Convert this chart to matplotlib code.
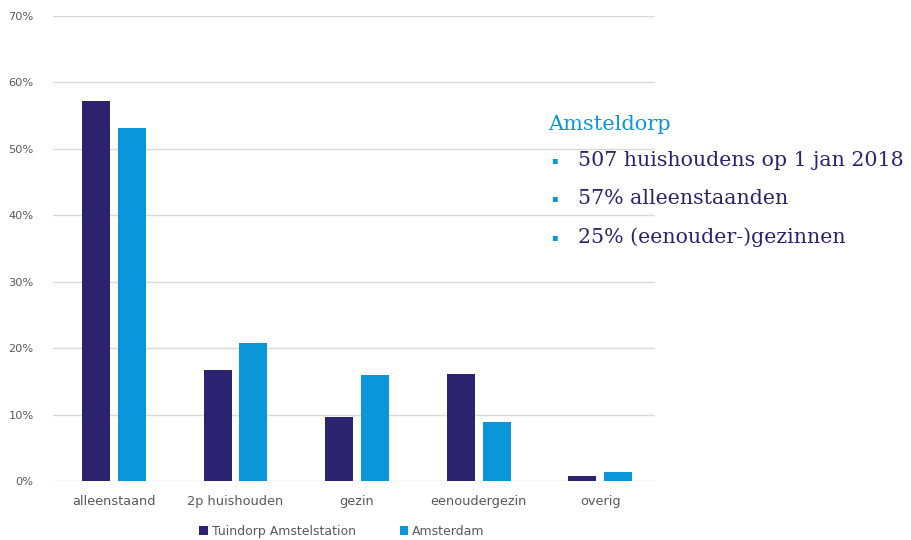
import matplotlib
matplotlib.use("Agg")
import matplotlib.pyplot as plt
import numpy as np

categories = ["alleenstaand", "2p huishouden", "gezin", "eenoudergezin", "overig"]
tuindorp = [57.2, 16.7, 9.6, 16.1, 0.8]
amsterdam = [53.2, 20.8, 16.0, 8.9, 1.4]
series_names = ["Tuindorp Amstelstation", "Amsterdam"]
yticks = [0, 10, 20, 30, 40, 50, 60, 70]
info_title = "Amsteldorp"
info_lines = ["507 huishoudens op 1 jan 2018", "57% alleenstaanden", "25% (eenouder-)gezinnen"]

dark = "#2B2370"
light = "#0A96D8"
grey = "#595959"

fig = plt.figure(figsize=(9.12, 5.4), dpi=100)
ax = fig.add_axes([53/912, 1-481/540, (655-53)/912, (481-16)/540])

x = np.arange(len(categories))
w = 0.23
off = 0.147
ax.bar(x - off, tuindorp, width=w, color=dark, label=series_names[0], zorder=3)
ax.bar(x + off, amsterdam, width=w, color=light, label=series_names[1], zorder=3)

ax.set_ylim(0, 70)
ax.set_xlim(-0.5, 4.45)
ax.set_yticks(yticks)
ax.set_yticklabels([f"{v}%" for v in yticks], fontsize=8.2, color=grey)
ax.set_xticks(x)
ax.set_xticklabels(categories, fontsize=9.3, color=grey)
ax.tick_params(axis="both", length=0)
ax.tick_params(axis="y", pad=14)
ax.tick_params(axis="x", pad=10)
ax.yaxis.grid(True, color="#D9D9D9", linewidth=1, zorder=0)
for s in ax.spines.values():
    s.set_visible(False)

ax.legend(loc="upper center", bbox_to_anchor=(0.48, -0.07), ncol=2, frameon=False,
          fontsize=9, handlelength=0.7, handleheight=0.7, handletextpad=0.3,
          columnspacing=3.5, labelcolor=grey)

fig.text(548/912, 1-125/540, info_title, color=light, fontsize=15, family="DejaVu Serif",
         va="center", ha="left")
ys = [160, 198, 237]
for yy, t in zip(ys, info_lines):
    fig.text(551/912, 1-yy/540, "\u25AA", color=light, fontsize=7, va="center", ha="left")
    fig.text(578/912, 1-yy/540, t, color=dark, fontsize=14.8, family="DejaVu Serif",
             va="center", ha="left")

fig.savefig("out.png", dpi=100)
